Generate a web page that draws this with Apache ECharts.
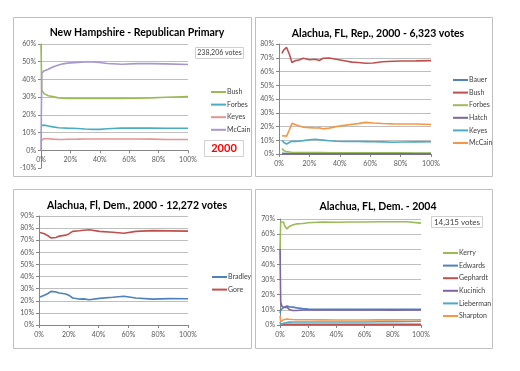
<!DOCTYPE html>
<html><head><meta charset="utf-8">
<script src="https://cdn.jsdelivr.net/npm/echarts@6/dist/echarts.min.js"></script>
<style>html,body{margin:0;padding:0;background:#fff}#c{width:520px;height:371px}</style>
</head><body><div id="c"></div>
<script>
// ---- Panel 1: New Hampshire - Republican Primary (2000)
const nhX = [0, 0.5, 2, 5, 8, 12, 15, 18, 25, 30, 35, 40, 45, 55, 65, 75, 85, 100];
const nhBush = [60, 34, 32, 30.8, 30.3, 29.6, 29.4, 29.3, 29.3, 29.3, 29.3, 29.3, 29.3, 29.3, 29.4, 29.6, 29.9, 30.3];
const nhForbes = [14, 14.2, 14.2, 13.7, 13.2, 12.7, 12.6, 12.5, 12.3, 12, 11.8, 11.8, 12.2, 12.6, 12.5, 12.5, 12.4, 12.4];
const nhKeyes = [4.5, 5.7, 6.5, 6.5, 6.3, 6.1, 6.1, 6.2, 6.3, 6.4, 6.4, 6.4, 6.4, 6.4, 6.4, 6.3, 6.1, 6.1];
const nhMcCain = [0, 43.5, 44.8, 45.7, 47, 48.1, 48.8, 49.2, 49.6, 49.8, 49.8, 49.6, 49, 48.6, 48.9, 48.9, 48.8, 48.4];
// ---- Panel 2: Alachua, FL, Rep., 2000
const arX = [2, 3, 5, 7, 8.5, 11, 13, 16, 20, 24, 26.5, 29, 33, 37.5, 43, 48, 52, 57, 62, 68, 75, 81, 90, 100];
const arBauer = [0.5, 0.5, 0.4, 0.4, 0.4, 0.4, 0.4, 0.4, 0.4, 0.4, 0.4, 0.4, 0.4, 0.4, 0.4, 0.4, 0.4, 0.4, 0.4, 0.4, 0.4, 0.4, 0.4, 0.4];
const arBush = [73.2, 75.5, 77.5, 72, 66.5, 68, 68.3, 69.6, 68.5, 68.9, 68, 69.6, 69.8, 68.9, 67.8, 66.8, 66.5, 66, 66.2, 67.1, 67.4, 67.6, 67.7, 67.9];
const arForbes = [4, 2.5, 1.7, 1.4, 1.2, 1.1, 1, 1, 1, 1, 1, 1, 0.9, 0.9, 0.9, 0.9, 0.9, 0.9, 0.8, 0.8, 0.8, 0.8, 0.7, 0.7];
const arHatch = [0, 0, 0.1, 0.1, 0.1, 0.1, 0.1, 0.1, 0.1, 0.1, 0.1, 0.1, 0.1, 0.1, 0.1, 0.1, 0.1, 0.1, 0.1, 0.1, 0.1, 0.1, 0.1, 0.1];
const arKeyes = [10, 8.5, 7.3, 8.5, 9.3, 9.2, 9.3, 9.7, 10.4, 10.7, 10.4, 10.1, 9.6, 9.3, 9.1, 9.1, 9.1, 9, 8.9, 8.8, 8.6, 8.7, 8.8, 8.9];
const arMcCain = [13.3, 13.2, 13, 18, 22.3, 21.3, 20.6, 19.5, 19.2, 18.9, 19, 18.3, 18.8, 19.9, 20.8, 21.6, 22.1, 23, 22.6, 22.2, 21.9, 21.8, 21.8, 21.4];
// ---- Panel 3: Alachua, Fl, Dem., 2000
const adX = [0.7, 3.6, 6, 8, 11.4, 13.6, 18, 20, 22.6, 27, 30, 33.8, 40.5, 49.5, 57, 65, 76.3, 87.5, 100];
const adBradley = [23.1, 24.5, 26, 27.8, 27.3, 26.4, 25.6, 24.6, 22.3, 21.4, 21.6, 20.9, 22, 22.9, 23.8, 22.3, 21.4, 21.8, 21.7];
const adGore = [76.3, 75.3, 73.7, 71.9, 72.3, 73.4, 74.2, 75.2, 77.3, 77.8, 78.2, 78.6, 77.3, 76.6, 75.8, 77.3, 77.9, 77.7, 77.5];
// ---- Panel 4: Alachua, FL, Dem. - 2004
const a4X = [0, 0.5, 1.5, 2.5, 3.5, 5, 6.5, 9, 12, 16, 20, 30, 40, 50, 60, 70, 80, 90, 100];
const a4Kerry = [50, 68, 67, 68, 65, 63.5, 65, 66, 66.8, 67, 67.5, 68, 67.9, 68, 68, 68.2, 68.2, 68.2, 67.3];
const a4Edwards = [8, 10, 10.5, 11.5, 12, 12.6, 12, 11.8, 11.3, 10.8, 10.5, 10.3, 10.3, 10.4, 10.3, 10.3, 10.3, 10.3, 10.3];
const a4Gephardt = [0, 0.3, 0.5, 0.5, 0.5, 0.5, 0.5, 0.5, 0.5, 0.5, 0.5, 0.5, 0.5, 0.5, 0.5, 0.5, 0.5, 0.5, 0.5];
const a4Kucinich = [50, 15, 12, 11, 11.5, 11.8, 10.3, 9.6, 9.6, 9.9, 10, 10, 10, 10, 9.9, 9.9, 9.8, 9.9, 10];
const a4Lieberman = [2, 0.5, 0.8, 1.2, 1.5, 1.7, 1.9, 2, 2, 2, 2, 2, 2, 2, 2, 2.1, 2.2, 2.3, 2.5];
const a4Sharpton = [6, 2, 2.8, 3.5, 3.8, 4, 3.8, 3.6, 3.5, 3.5, 3.5, 3.4, 3.3, 3.3, 3.3, 3.4, 3.4, 3.5, 3.5];

const titles = ['New Hampshire - Republican Primary', 'Alachua, FL, Rep., 2000 - 6,323 votes', 'Alachua, Fl, Dem., 2000 - 12,272 votes', 'Alachua, FL, Dem. - 2004'];
const annotations = ['238,206 votes', '2000', '14,315 votes'];

const C = {blue:'#4F81BD', red:'#C0504D', green:'#9BBB59', purple:'#8064A2', aqua:'#4BACC6', orange:'#F79646', pink:'#E29593', lav:'#A897CF'};
const FONT = 'Lato';
const zip = (xs, ys) => xs.map((x, i) => [x, ys[i]]);

const panels = [
  {grid:{left:41, top:44, width:147, height:124}, ymin:-10, ymax:60, xOffset:-124/7,
   series:[['Bush', nhX, nhBush, C.green], ['Forbes', nhX, nhForbes, C.aqua], ['Keyes', nhX, nhKeyes, C.pink], ['McCain', nhX, nhMcCain, C.lav]],
   legend:{left:206, top:83}},
  {grid:{left:279, top:44, width:152, height:110}, ymin:0, ymax:80, xOffset:0,
   series:[['Bauer', arX, arBauer, C.blue], ['Bush', arX, arBush, C.red], ['Forbes', arX, arForbes, C.green], ['Hatch', arX, arHatch, C.purple], ['Keyes', arX, arKeyes, C.aqua], ['McCain', arX, arMcCain, C.orange]],
   legend:{left:448, top:71}},
  {grid:{left:39, top:216, width:149, height:109}, ymin:0, ymax:90, xOffset:0,
   series:[['Bradley', adX, adBradley, C.blue], ['Gore', adX, adGore, C.red]],
   legend:{left:207, top:268}},
  {grid:{left:280, top:219, width:141, height:106}, ymin:0, ymax:70, xOffset:0,
   series:[['Kerry', a4X, a4Kerry, C.green], ['Edwards', a4X, a4Edwards, C.blue], ['Gephardt', a4X, a4Gephardt, C.red], ['Kucinich', a4X, a4Kucinich, C.purple], ['Lieberman', a4X, a4Lieberman, C.aqua], ['Sharpton', a4X, a4Sharpton, C.orange]],
   legend:{left:438, top:244}}
];

const axisLbl = {fontFamily: FONT, fontSize: 7, color: '#595959'};
const option = {animation:false, backgroundColor:'#fff', grid:[], xAxis:[], yAxis:[], series:[], legend:[], title:[]};
const titlePos = [[132, 22], [373, 23], [132, 195], [373, 196]];
panels.forEach((p, k) => {
  option.grid.push(p.grid);
  option.xAxis.push({type:'value', gridIndex:k, min:0, max:100, interval:20, position:'bottom', offset:p.xOffset,
    axisLine:{show:true, onZero:false, lineStyle:{color:'#868686', width:1}},
    axisTick:{show:true, length:3, lineStyle:{color:'#868686'}},
    splitLine:{show:false},
    axisLabel:Object.assign({formatter:'{value}%', margin:6}, axisLbl)});
  const nTicks = Math.round((p.ymax - p.ymin) / 10) + 1;
  const splitColors = [];
  for (let i = 0; i < nTicks; i++) splitColors.push((p.ymin + i * 10) < 0 ? 'rgba(0,0,0,0)' : '#BFBFBF');
  option.yAxis.push({type:'value', gridIndex:k, min:p.ymin, max:p.ymax, interval:10,
    axisLine:{show:true, onZero:false, lineStyle:{color:'#868686', width:1}},
    axisTick:{show:true, length:3, lineStyle:{color:'#868686'}},
    splitLine:{show:true, lineStyle:{color:splitColors, width:1}},
    axisLabel:Object.assign({formatter:'{value}%', margin:5}, axisLbl)});
  const names = [];
  p.series.forEach(([nm, xs, ys, col]) => {
    const id = 'p' + k + ':' + nm;
    names.push(id);
    option.series.push({type:'line', name:id, xAxisIndex:k, yAxisIndex:k, data:zip(xs, ys),
      showSymbol:false, symbol:'none', lineStyle:{color:col, width:1.6}, itemStyle:{color:col}});
  });
  option.legend.push({orient:'vertical', left:p.legend.left, top:p.legend.top, data:names,
    icon:'rect', itemWidth:15, itemHeight:2, itemGap:4.6,
    formatter: n => n.split(':')[1],
    textStyle:{fontFamily:FONT, fontSize:7, color:'#404040', padding:[0,0,0,-4], lineHeight:8}});
  option.title.push({text:titles[k], left:titlePos[k][0], top:titlePos[k][1], textAlign:'center',
    textStyle:{fontFamily:FONT, fontSize:10.5, fontWeight:'bold', color:'#000'}});
});

const box = (x, y, w, h) => ({type:'rect', shape:{x, y, width:w, height:h}, style:{fill:'#fff', stroke:'#BFBFBF', lineWidth:1}, z:0, silent:true});
option.graphic = [
  box(13.5, 17.5, 238, 159), box(255.5, 17.5, 237, 159), box(13.5, 189.5, 238, 159), box(255.5, 189.5, 237, 159),
  {type:'rect', shape:{x:195.5, y:47.5, width:48, height:11}, style:{fill:'#fff', stroke:'#D0D0D0'}, z:10},
  {type:'text', x:219.5, y:53, style:{text:annotations[0], fontFamily:FONT, fontSize:7, fill:'#404040', align:'center', verticalAlign:'middle'}, z:11},
  {type:'rect', shape:{x:204.5, y:140.5, width:39, height:16}, style:{fill:'#fff', stroke:'#D0D0D0'}, z:10},
  {type:'text', x:224, y:148.5, style:{text:annotations[1], fontFamily:FONT, fontSize:11, fontWeight:'bold', fill:'#FF0000', align:'center', verticalAlign:'middle'}, z:11},
  {type:'rect', shape:{x:431.5, y:216.5, width:51, height:11}, style:{fill:'#fff', stroke:'#D0D0D0'}, z:10},
  {type:'text', x:457, y:222, style:{text:annotations[2], fontFamily:FONT, fontSize:8, fill:'#404040', align:'center', verticalAlign:'middle'}, z:11}
];

const chart = echarts.init(document.getElementById('c'), null, {renderer:'canvas'});
chart.setOption(option);
</script></body></html>
